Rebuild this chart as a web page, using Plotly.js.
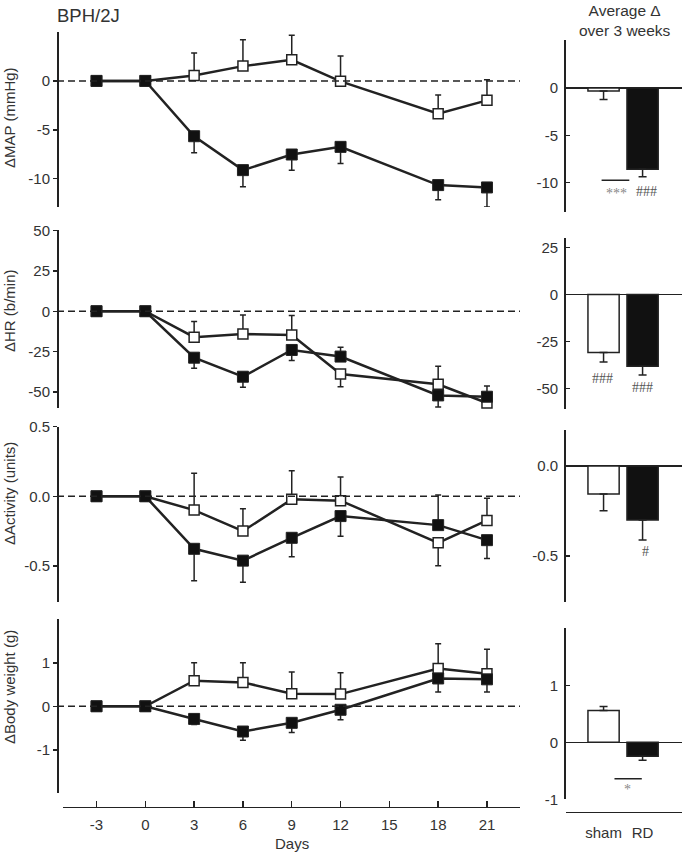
<!DOCTYPE html>
<html>
<head>
<meta charset="utf-8">
<script src="https://cdn.plot.ly/plotly-3.0.1.min.js"></script>
<style>
  html, body { margin: 0; padding: 0; background: #fff; }
  #chart { width: 685px; height: 852px; }
</style>
</head>
<body>
<div id="chart"></div>
<script>
// Time course (days relative to renal denervation)
const days = [-3, 0, 3, 6, 9, 12, 18, 21];
const dayTicks = [-3, 0, 3, 6, 9, 12, 15, 18, 21];
const dayTickText = ['-3', '0', '3', '6', '9', '12', '15', '18', '21'];

// ΔMAP (mmHg)
const mapSham = [0, 0, 0.56, 1.51, 2.16, -0.05, -3.35, -1.99];
const mapShamUp = [0, 0, 2.3, 2.7, 2.5, 2.6, 1.9, 2.1];
const mapShamDown = [0, 0, 0, 0, 0, 0, 0, 0];
const mapRD = [0, 0, -5.66, -9.13, -7.53, -6.75, -10.66, -10.9];
const mapRDUp = [0, 0, 0, 0, 0, 0, 0, 0];
const mapRDDown = [0, 0, 1.7, 1.7, 1.6, 1.7, 1.5, 2.0];

// ΔHR (b/min)
const hrSham = [0, 0, -16.1, -14.1, -14.7, -38.9, -45.3, -56.9];
const hrShamUp = [0, 0, 9.7, 11.8, 12, 0, 11.2, 0];
const hrShamDown = [0, 0, 0, 0, 0, 7.9, 0, 0];
const hrRD = [0, 0, -28.8, -40.6, -24.0, -28.1, -52.2, -53.0];
const hrRDUp = [0, 0, 0, 0, 0, 5.8, 0, 6.7];
const hrRDDown = [0, 0, 6.6, 6.6, 6.6, 0, 7.2, 0];

// ΔActivity (units)
const actSham = [0, 0, -0.099, -0.25, -0.022, -0.031, -0.334, -0.173];
const actShamUp = [0, 0, 0.265, 0.16, 0.205, 0.17, 0, 0.159];
const actShamDown = [0, 0, 0, 0, 0, 0, 0.164, 0];
const actRD = [0, 0, -0.377, -0.462, -0.298, -0.142, -0.207, -0.315];
const actRDUp = [0, 0, 0, 0, 0, 0, 0.216, 0];
const actRDDown = [0, 0, 0.23, 0.156, 0.137, 0.144, 0, 0.132];

// ΔBody weight (g)
const bwSham = [0, 0, 0.59, 0.55, 0.29, 0.28, 0.87, 0.75];
const bwShamUp = [0, 0, 0.41, 0.45, 0.5, 0.49, 0.57, 0.56];
const bwShamDown = [0, 0, 0, 0, 0, 0, 0, 0];
const bwRD = [0, 0, -0.29, -0.58, -0.38, -0.08, 0.64, 0.62];
const bwRDUp = [0, 0, 0, 0, 0, 0, 0, 0];
const bwRDDown = [0, 0, 0.13, 0.2, 0.22, 0.23, 0.31, 0.29];

// Average Δ over 3 weeks
const groups = ['sham', 'RD'];
const mapAvg = [-0.3, -8.6];
const mapAvgUp = [0, 0];
const mapAvgDown = [0.9, 0.8];
const hrAvg = [-30.8, -38.1];
const hrAvgUp = [0, 0];
const hrAvgDown = [5.0, 4.7];
const actAvg = [-0.156, -0.3];
const actAvgUp = [0, 0];
const actAvgDown = [0.092, 0.111];
const bwAvg = [0.56, -0.245];
const bwAvgUp = [0.07, 0];
const bwAvgDown = [0, 0.07];

// Y ticks
const mapTicks = [-10, -5, 0];
const mapTickText = ['-10', '-5', '0'];
const hrTicks = [-50, -25, 0, 25, 50];
const hrTickText = ['-50', '-25', '0', '25', '50'];
const actTicks = [-0.5, 0, 0.5];
const actTickText = ['-0.5', '0.0', '0.5'];
const bwTicks = [-1, 0, 1];
const bwTickText = ['-1', '0', '1'];
const hrAvgTicks = [-50, -25, 0, 25];
const hrAvgTickText = ['-50', '-25', '0', '25'];
const actAvgTicks = [-0.5, 0];
const actAvgTickText = ['-0.5', '0.0'];

const FONT = 'Liberation Sans, Arial, sans-serif';
const INK = '#222';
const TEXT = '#333';
const TICK_SIZE = 15;
const W = 685, H = 852;

// pixel helpers for paper coordinates
const px = x => x / W;
const py = y => (H - y) / H;

// Line + marker traces for one panel (sham open squares, RD filled squares)
function timeTraces(xa, ya, sham, shamUp, shamDown, rd, rdUp, rdDown) {
  const common = {
    x: days,
    mode: 'lines+markers',
    xaxis: xa,
    yaxis: ya,
    cliponaxis: false,
    line: { color: INK, width: 2.5 }
  };
  const shamTrace = Object.assign({}, common, {
    y: sham,
    marker: { symbol: 'square', size: 10, color: '#fff', line: { color: INK, width: 1.5 } },
    error_y: { type: 'data', symmetric: false, array: shamUp, arrayminus: shamDown,
      color: INK, thickness: 1.5, width: 3 }
  });
  const rdTrace = Object.assign({}, common, {
    y: rd,
    marker: { symbol: 'square', size: 11, color: '#111', line: { color: INK, width: 1 } },
    error_y: { type: 'data', symmetric: false, array: rdUp, arrayminus: rdDown,
      color: INK, thickness: 1.5, width: 3 }
  });
  return [shamTrace, rdTrace];
}

// Bar trace for the averages
function barTrace(xa, ya, vals, up, down) {
  return {
    type: 'bar',
    x: groups,
    y: vals,
    xaxis: xa,
    yaxis: ya,
    width: 0.8,
    cliponaxis: false,
    marker: { color: ['#fff', '#111'], line: { color: INK, width: 1.5 } },
    error_y: { type: 'data', symmetric: false, array: up, arrayminus: down,
      color: INK, thickness: 1.5, width: 4 }
  };
}

// Left-hand y axis
function leftY(domain, range, ticks, text) {
  return {
    domain: domain, range: range, anchor: 'free', position: px(57),
    showline: true, linecolor: INK, linewidth: 1.5,
    ticks: 'outside', ticklen: 4, tickwidth: 1.5, tickcolor: INK,
    tickvals: ticks, ticktext: text,
    tickfont: { family: FONT, size: TICK_SIZE, color: TEXT },
    showgrid: false, zeroline: false
  };
}

// Right-hand y axis (bar panels)
function rightY(domain, range, ticks, text, xa) {
  return {
    domain: domain, range: range, anchor: xa,
    showline: true, linecolor: INK, linewidth: 1.5,
    ticks: 'inside', ticklen: 4, tickwidth: 1.5, tickcolor: INK,
    tickvals: ticks, ticktext: text, ticklabelstandoff: 3,
    tickfont: { family: FONT, size: TICK_SIZE, color: TEXT },
    showgrid: false, zeroline: true, zerolinecolor: INK, zerolinewidth: 1.5
  };
}

function hiddenX(domain, range, ya) {
  return {
    domain: domain, range: range, anchor: ya,
    visible: false, showgrid: false, zeroline: false
  };
}

function zeroDash(ya) {
  return {
    type: 'line', xref: 'paper', yref: ya,
    x0: px(57), x1: px(520), y0: 0, y1: 0,
    line: { color: INK, width: 1.5, dash: '7px,4px' }
  };
}

function drawChart() {
  const leftDom = [px(63), px(520)];
  const dayRange = [-5.06, 23.03];
  const rightDom = [px(565.7), px(682)];
  const barRange = [-0.97, 2.01];

  const data = [
    ...timeTraces('x', 'y', mapSham, mapShamUp, mapShamDown, mapRD, mapRDUp, mapRDDown),
    ...timeTraces('x2', 'y2', hrSham, hrShamUp, hrShamDown, hrRD, hrRDUp, hrRDDown),
    ...timeTraces('x3', 'y3', actSham, actShamUp, actShamDown, actRD, actRDUp, actRDDown),
    ...timeTraces('x4', 'y4', bwSham, bwShamUp, bwShamDown, bwRD, bwRDUp, bwRDDown),
    barTrace('x5', 'y5', mapAvg, mapAvgUp, mapAvgDown),
    barTrace('x6', 'y6', hrAvg, hrAvgUp, hrAvgDown),
    barTrace('x7', 'y7', actAvg, actAvgUp, actAvgDown),
    barTrace('x8', 'y8', bwAvg, bwAvgUp, bwAvgDown)
  ];

  const annFont = { family: FONT, size: 15.5, color: TEXT };
  const yTitle = (text, yc) => ({
    text: text, xref: 'paper', yref: 'paper', x: px(9), y: py(yc),
    textangle: -90, showarrow: false,
    font: { family: FONT, size: 15, color: TEXT }, xanchor: 'center', yanchor: 'middle'
  });
  const sig = (text, xa, ya, x, y, color) => ({
    text: text, xref: xa, yref: ya, x: x, y: y, showarrow: false,
    font: { family: 'Liberation Serif, Times New Roman, serif', size: 14, color: color },
    xanchor: 'center', yanchor: 'middle'
  });

  const layout = {
    width: W,
    height: H,
    margin: { t: 0, b: 0, l: 0, r: 0 },
    paper_bgcolor: '#fff',
    plot_bgcolor: 'rgba(0,0,0,0)',
    showlegend: false,
    bargap: 0.2,

    xaxis: hiddenX(leftDom, dayRange, 'y'),
    xaxis2: hiddenX(leftDom, dayRange, 'y2'),
    xaxis3: hiddenX(leftDom, dayRange, 'y3'),
    xaxis4: {
      domain: leftDom, range: dayRange, anchor: 'free', position: py(806.7),
      showline: true, linecolor: INK, linewidth: 1.5,
      ticks: 'inside', ticklen: 6, tickwidth: 1.5, tickcolor: INK,
      tickvals: dayTicks, ticktext: dayTickText, ticklabelstandoff: 4,
      tickfont: { family: FONT, size: TICK_SIZE, color: TEXT },
      showgrid: false, zeroline: false
    },
    yaxis: leftY([py(207), py(32)], [-12.9, 5.0], mapTicks, mapTickText),
    yaxis2: leftY([py(408), py(230)], [-60, 50.4], hrTicks, hrTickText),
    yaxis3: leftY([py(601.7), py(426.7)], [-0.757, 0.5], actTicks, actTickText),
    yaxis4: leftY([py(793.3), py(619.3)], [-2, 2], bwTicks, bwTickText),

    xaxis5: hiddenX(rightDom, barRange, 'y5'),
    xaxis6: hiddenX(rightDom, barRange, 'y6'),
    xaxis7: hiddenX(rightDom, barRange, 'y7'),
    xaxis8: {
      domain: rightDom, range: barRange, anchor: 'free', position: py(811.7),
      type: 'category',
      showline: true, linecolor: INK, linewidth: 1.5, ticks: '',
      ticklabelstandoff: 7,
      tickfont: { family: FONT, size: TICK_SIZE, color: TEXT },
      showgrid: false, zeroline: false
    },
    yaxis5: rightY([py(211.7), py(40)], [-13.1, 5.1], mapTicks, mapTickText, 'x5'),
    yaxis6: rightY([py(409), py(237.7)], [-60.8, 30.1], hrAvgTicks, hrAvgTickText, 'x6'),
    yaxis7: rightY([py(601.7), py(430)], [-0.754, 0.2], actAvgTicks, actAvgTickText, 'x7'),
    yaxis8: rightY([py(799.3), py(628.3)], [-1.0, 2.0], bwTicks, bwTickText, 'x8'),

    shapes: [
      zeroDash('y'), zeroDash('y2'), zeroDash('y3'), zeroDash('y4'),
      { type: 'line', xref: 'x5', yref: 'y5', x0: -0.05, x1: 0.66, y0: -9.76, y1: -9.76,
        line: { color: INK, width: 1.5 } },
      { type: 'line', xref: 'x8', yref: 'y8', x0: 0.28, x1: 0.98, y0: -0.64, y1: -0.64,
        line: { color: INK, width: 1.5 } }
    ],

    annotations: [
      { text: 'BPH/2J', xref: 'paper', yref: 'paper', x: px(55), y: py(15.5),
        xanchor: 'left', yanchor: 'middle', showarrow: false,
        font: { family: FONT, size: 18.5, color: TEXT } },
      { text: 'Average Δ<br>over 3 weeks', xref: 'paper', yref: 'paper', x: px(625), y: py(21),
        xanchor: 'center', yanchor: 'middle', showarrow: false, font: annFont },
      { text: 'Days', xref: 'paper', yref: 'paper', x: px(292), y: py(843),
        xanchor: 'center', yanchor: 'middle', showarrow: false,
        font: { family: FONT, size: TICK_SIZE, color: TEXT } },
      yTitle('ΔMAP (mmHg)', 118),
      yTitle('ΔHR (b/min)', 311),
      yTitle('ΔActivity (units)', 494),
      yTitle('ΔBody weight (g)', 687),
      sig('***', 'x5', 'y5', 0.34, -11.2, '#888'),
      sig('###', 'x5', 'y5', 1.11, -11.0, '#555'),
      sig('###', 'x6', 'y6', -0.02, -44.6, '#555'),
      sig('###', 'x6', 'y6', 1.0, -49.6, '#555'),
      sig('#', 'x7', 'y7', 1.08, -0.476, '#555'),
      sig('*', 'x8', 'y8', 0.61, -0.83, '#888')
    ]
  };

  Plotly.newPlot('chart', data, layout, { staticPlot: true, displayModeBar: false });
}

drawChart();
</script>
</body>
</html>
